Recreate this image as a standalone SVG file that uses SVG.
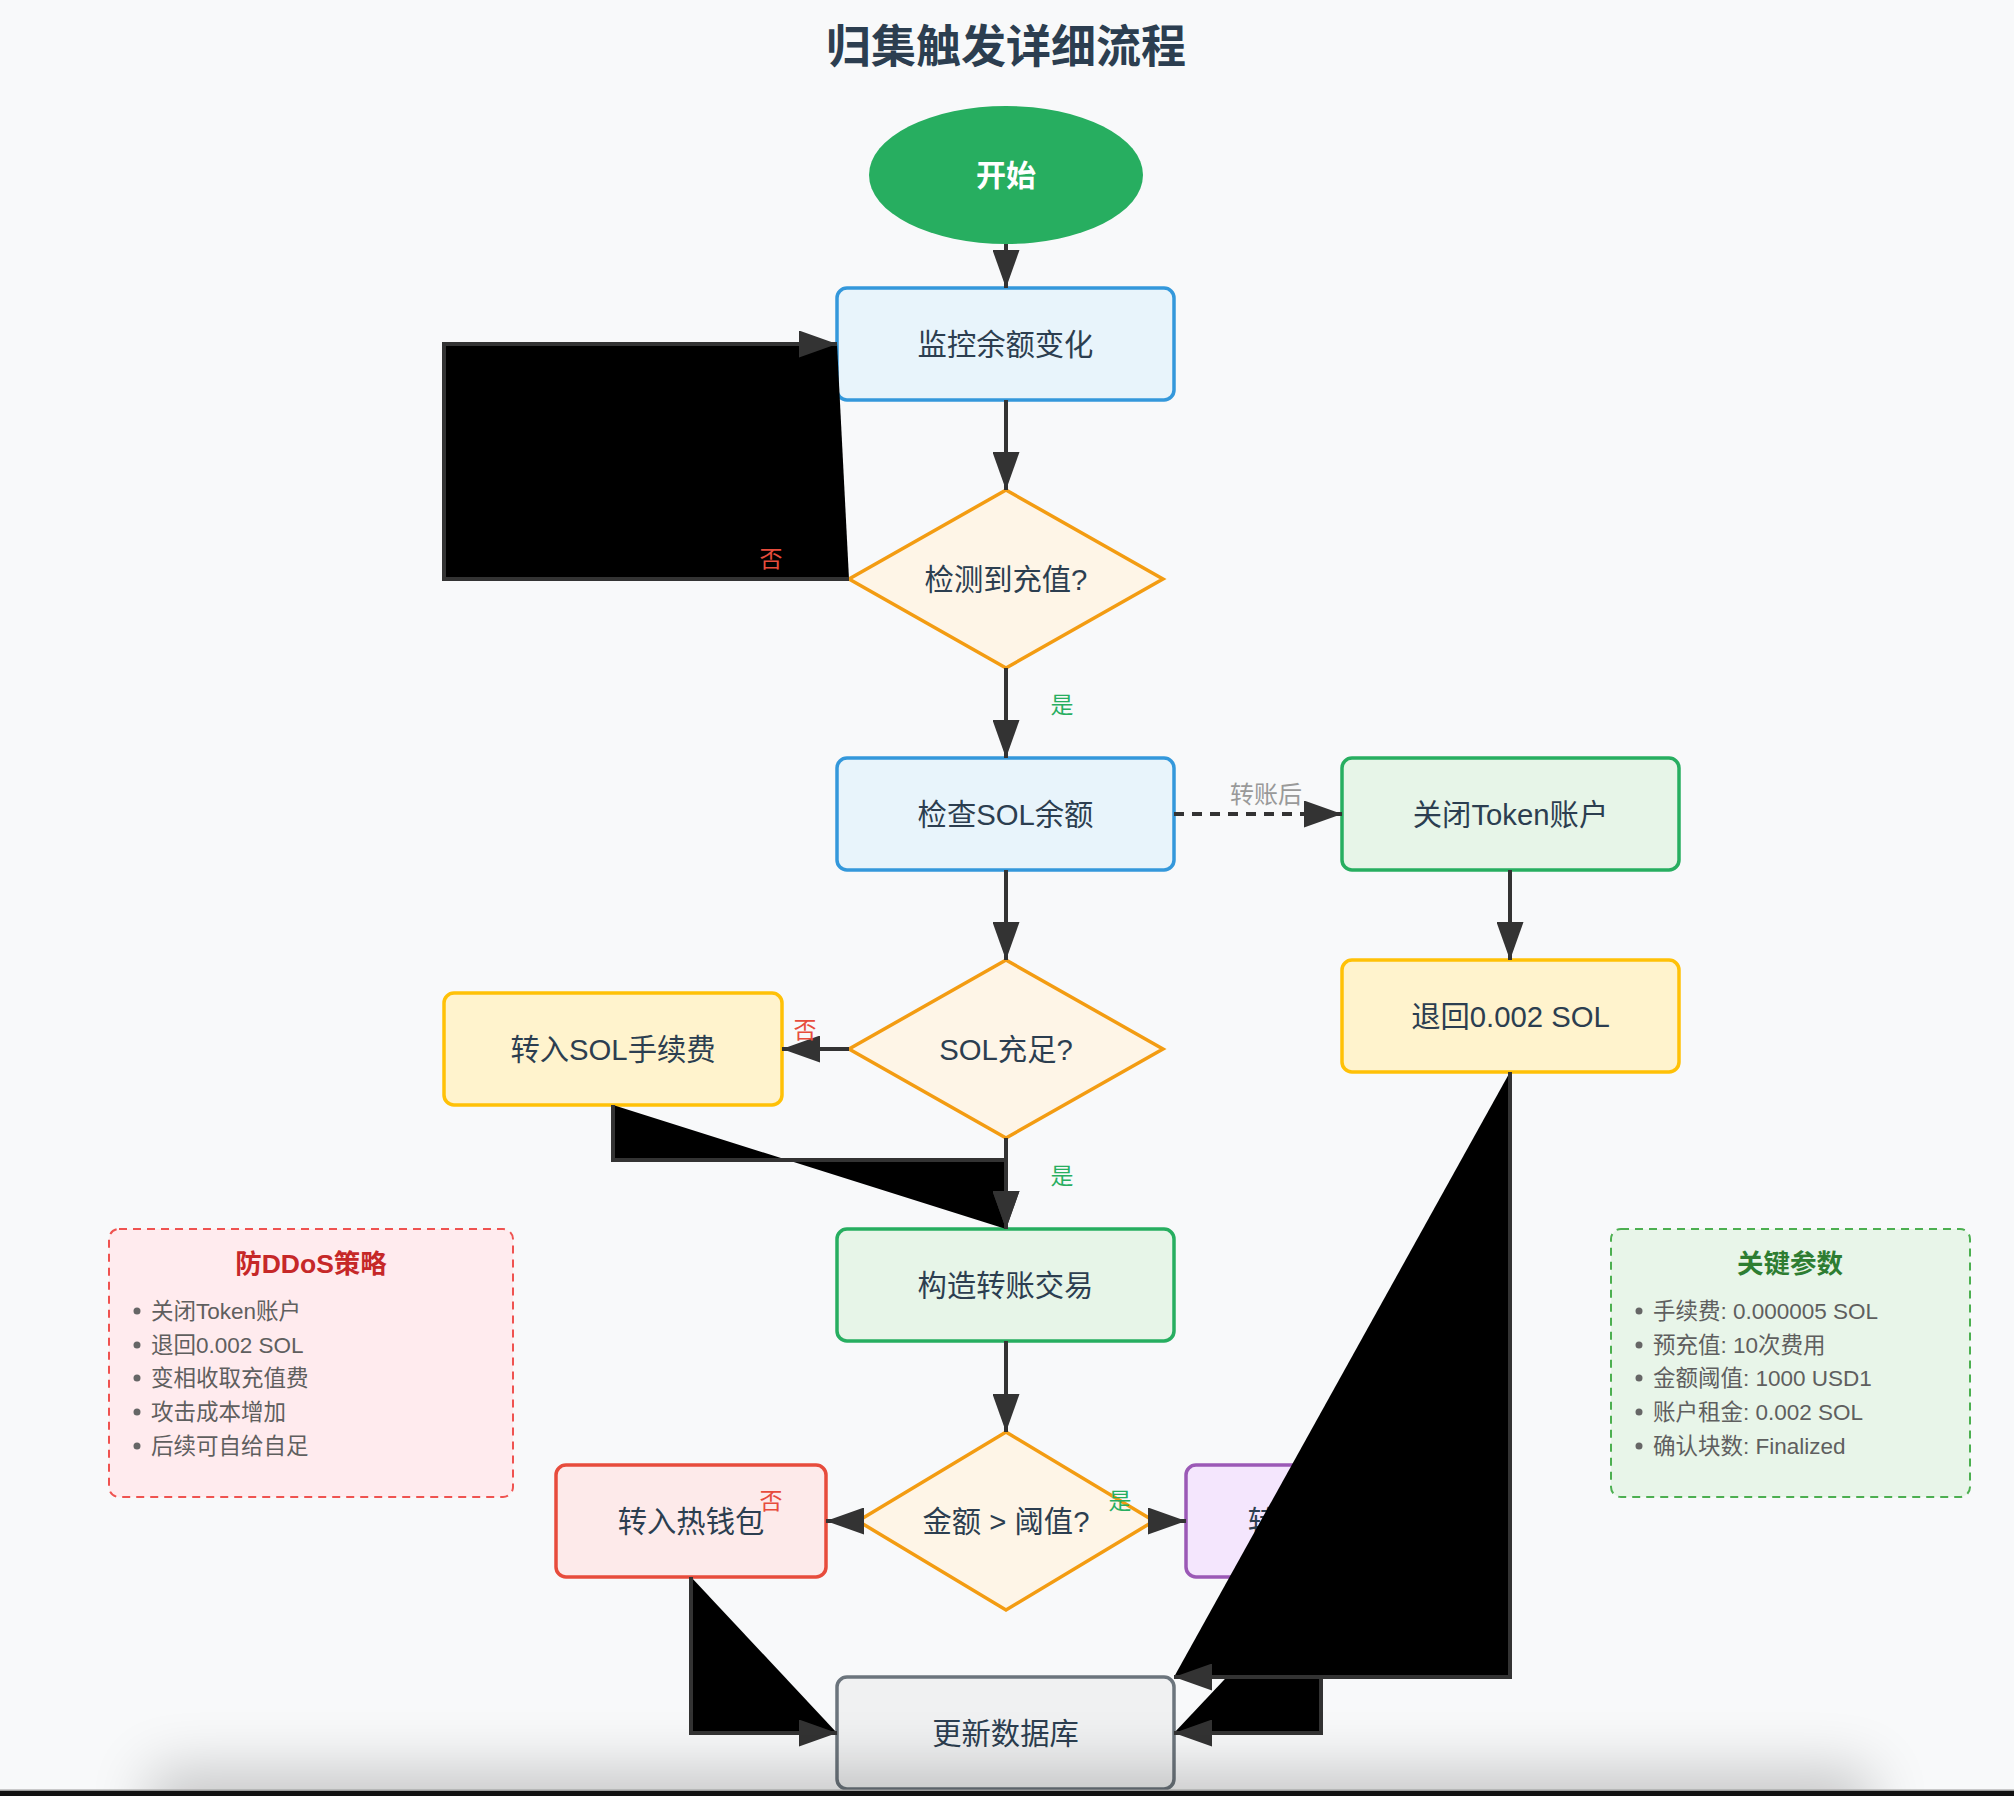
<svg xmlns="http://www.w3.org/2000/svg" width="2014" height="1796" viewBox="0 0 2014 1796">
  <defs>
    <style>
      text { font-family: "Liberation Sans", "Noto Sans CJK SC", sans-serif; }
      .title { font-size: 45px; font-weight: bold; fill: #2c3e50; text-anchor: middle; dominant-baseline: central; }
      .label { font-size: 29.3px; fill: #2c3e50; text-anchor: middle; dominant-baseline: central; }
      .start-label { font-size: 30px; font-weight: bold; fill: #ffffff; text-anchor: middle; dominant-baseline: central; }
      .box { stroke-width: 3.5; }
      .blue { fill: #e8f4fb; stroke: #3498db; }
      .green { fill: #e7f5e8; stroke: #27ae60; }
      .yellow { fill: #fff3cd; stroke: #ffc107; }
      .decision { fill: #fef5e7; stroke: #f39c12; stroke-width: 3.5; }
      .red { fill: #fdeaea; stroke: #e74c3c; }
      .purple { fill: #f4e6fd; stroke: #9b59b6; }
      .grey { fill: #f0f1f2; stroke: #6c757d; }
      .edge { stroke: #333333; stroke-width: 4; marker-end: url(#arrow); }
      .dashed { fill: none; stroke-dasharray: 10 8; }
      .yes { font-size: 23px; fill: #27ae60; text-anchor: middle; dominant-baseline: central; }
      .no { font-size: 23px; fill: #e74c3c; text-anchor: middle; dominant-baseline: central; }
      .note { font-size: 24px; fill: #999999; text-anchor: middle; dominant-baseline: central; }
      .legend-title { font-size: 26.5px; font-weight: bold; text-anchor: middle; dominant-baseline: central; }
      .legend-item { font-size: 22.5px; fill: #5f5f5f; dominant-baseline: central; }
      .bullet { fill: #666666; }
    </style>
    <marker id="arrow" markerUnits="userSpaceOnUse" markerWidth="38" markerHeight="27" refX="38" refY="13.5" orient="auto">
      <path d="M0,0 L38,13.5 L0,27 Z" fill="#333333"/>
    </marker>
    <filter id="soft" filterUnits="userSpaceOnUse" x="0" y="1600" width="2014" height="400">
      <feGaussianBlur stdDeviation="30"/>
    </filter>
    <clipPath id="pageClip">
      <rect x="0" y="0" width="2014" height="1790"/>
    </clipPath>
  </defs>

  <!-- page -->
  <rect x="0" y="0" width="2014" height="1796" fill="#f8f9fa"/>

  <text class="title" x="1006" y="47">归集触发详细流程</text>

  <!-- nodes -->
  <g id="node-start">
    <ellipse cx="1006" cy="175" rx="137" ry="69" fill="#27ae60"/>
    <text class="start-label" x="1006" y="175">开始</text>
  </g>
  <g id="node-monitor">
    <rect class="box blue" x="837" y="288" width="337" height="112" rx="10"/>
    <text class="label" x="1005.5" y="344">监控余额变化</text>
  </g>
  <g id="node-detect">
    <polygon class="decision" points="1006,490 1163,579 1006,668 849,579"/>
    <text class="label" x="1006" y="579">检测到充值?</text>
  </g>
  <g id="node-check-sol">
    <rect class="box blue" x="837" y="758" width="337" height="112" rx="10"/>
    <text class="label" x="1005.5" y="814">检查SOL余额</text>
  </g>
  <g id="node-close-token">
    <rect class="box green" x="1342" y="758" width="337" height="112" rx="10"/>
    <text class="label" x="1510.5" y="814">关闭Token账户</text>
  </g>
  <g id="node-refund">
    <rect class="box yellow" x="1342" y="960" width="337" height="112" rx="10"/>
    <text class="label" x="1510.5" y="1016">退回0.002 SOL</text>
  </g>
  <g id="node-sol-enough">
    <polygon class="decision" points="1006,960 1163,1049 1006,1138 849,1049"/>
    <text class="label" x="1006" y="1049">SOL充足?</text>
  </g>
  <g id="node-fee-in">
    <rect class="box yellow" x="444" y="993" width="338" height="112" rx="10"/>
    <text class="label" x="613" y="1049">转入SOL手续费</text>
  </g>
  <g id="node-build">
    <rect class="box green" x="837" y="1229" width="337" height="112" rx="10"/>
    <text class="label" x="1005.5" y="1285">构造转账交易</text>
  </g>
  <g id="node-threshold">
    <polygon class="decision" points="1006,1432 1154,1521 1006,1610 858,1521"/>
    <text class="label" x="1006" y="1521">金额 &gt; 阈值?</text>
  </g>
  <g id="node-hot">
    <rect class="box red" x="556" y="1465" width="270" height="112" rx="10"/>
    <text class="label" x="691" y="1521">转入热钱包</text>
  </g>
  <g id="node-cold">
    <rect class="box purple" x="1186" y="1465" width="270" height="112" rx="10"/>
    <text class="label" x="1321" y="1521">转入冷钱包</text>
  </g>
  <g id="node-db">
    <rect class="box grey" x="837" y="1677" width="337" height="112" rx="10"/>
    <text class="label" x="1005.5" y="1733">更新数据库</text>
  </g>

  <!-- side notes -->
  <g id="note-ddos">
    <rect x="109" y="1229" width="404" height="268" rx="10" fill="#ffebee" stroke="#ef5350" stroke-width="2" stroke-dasharray="8 6"/>
    <text class="legend-title" x="311" y="1264" fill="#c62828">防DDoS策略</text>
    <circle class="bullet" cx="137" cy="1311" r="3.5"/>
    <text class="legend-item" x="151" y="1311">关闭Token账户</text>
    <circle class="bullet" cx="137" cy="1345" r="3.5"/>
    <text class="legend-item" x="151" y="1345">退回0.002 SOL</text>
    <circle class="bullet" cx="137" cy="1378" r="3.5"/>
    <text class="legend-item" x="151" y="1378">变相收取充值费</text>
    <circle class="bullet" cx="137" cy="1412" r="3.5"/>
    <text class="legend-item" x="151" y="1412">攻击成本增加</text>
    <circle class="bullet" cx="137" cy="1446" r="3.5"/>
    <text class="legend-item" x="151" y="1446">后续可自给自足</text>
  </g>
  <g id="note-params">
    <rect x="1611" y="1229" width="359" height="268" rx="10" fill="#e8f5e9" stroke="#4caf50" stroke-width="2" stroke-dasharray="8 6"/>
    <text class="legend-title" x="1790" y="1264" fill="#2e7d32">关键参数</text>
    <circle class="bullet" cx="1639" cy="1311" r="3.5"/>
    <text class="legend-item" x="1653" y="1311">手续费: 0.000005 SOL</text>
    <circle class="bullet" cx="1639" cy="1345" r="3.5"/>
    <text class="legend-item" x="1653" y="1345">预充值: 10次费用</text>
    <circle class="bullet" cx="1639" cy="1378" r="3.5"/>
    <text class="legend-item" x="1653" y="1378">金额阈值: 1000 USD1</text>
    <circle class="bullet" cx="1639" cy="1412" r="3.5"/>
    <text class="legend-item" x="1653" y="1412">账户租金: 0.002 SOL</text>
    <circle class="bullet" cx="1639" cy="1446" r="3.5"/>
    <text class="legend-item" x="1653" y="1446">确认块数: Finalized</text>
  </g>

  <!-- connectors -->
  <g id="connectors">
    <path class="edge" d="M1006,244 L1006,288"/>
    <path class="edge" d="M1006,400 L1006,490"/>
    <path class="edge" d="M849,579 L444,579 L444,344 L837,344"/>
    <path class="edge" d="M1006,668 L1006,758"/>
    <path class="edge dashed" d="M1174,814 L1342,814"/>
    <path class="edge" d="M1510,870 L1510,960"/>
    <path class="edge" d="M1006,870 L1006,960"/>
    <path class="edge" d="M849,1049 L782,1049"/>
    <path class="edge" d="M613,1105 L613,1160 L1006,1160 L1006,1229"/>
    <path class="edge" d="M1006,1138 L1006,1229"/>
    <path class="edge" d="M1006,1341 L1006,1432"/>
    <path class="edge" d="M858,1521 L826,1521"/>
    <path class="edge" d="M1154,1521 L1186,1521"/>
    <path class="edge" d="M691,1577 L691,1733 L837,1733"/>
    <path class="edge" d="M1321,1577 L1321,1733 L1174,1733"/>
    <path class="edge" d="M1510,1072 L1510,1677 L1174,1677"/>
  </g>

  <!-- connector labels -->
  <g id="edge-labels">
    <text class="no" x="771" y="559">否</text>
    <text class="yes" x="1062" y="705">是</text>
    <text class="note" x="1266" y="794">转账后</text>
    <text class="no" x="805" y="1030">否</text>
    <text class="yes" x="1062" y="1176">是</text>
    <text class="no" x="771" y="1501">否</text>
    <text class="yes" x="1120" y="1501">是</text>
  </g>

  <!-- page bottom edge shading -->
  <g clip-path="url(#pageClip)">
    <rect x="150" y="1770" width="1720" height="120" fill="#000000" opacity="0.2" filter="url(#soft)"/>
  </g>
  <rect x="0" y="1789.5" width="2014" height="1.5" fill="#9a9a9a"/>
  <rect x="0" y="1791" width="2014" height="5" fill="#111111"/>
</svg>
